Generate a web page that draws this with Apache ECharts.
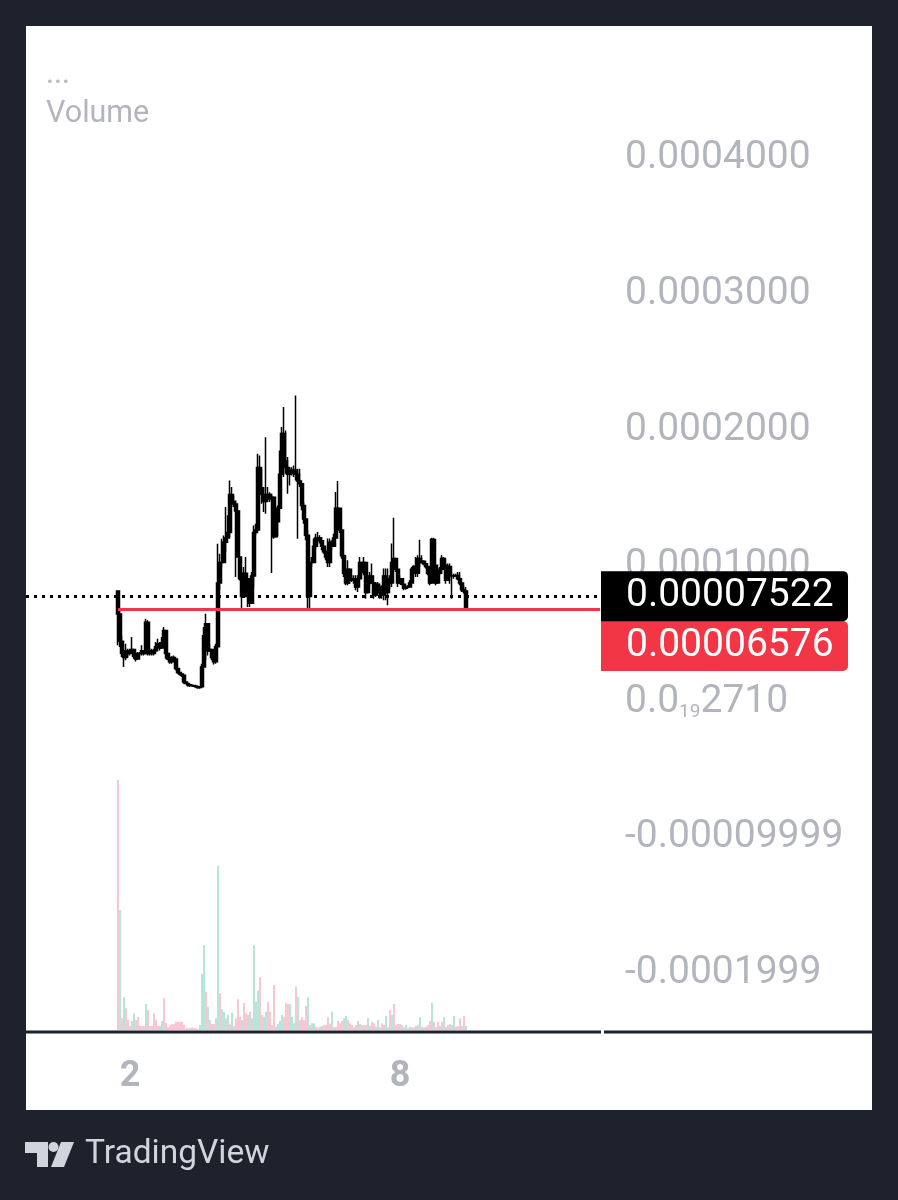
<!DOCTYPE html>
<html>
<head>
<meta charset="utf-8">
<style>
  html, body { margin: 0; padding: 0; background: #1e222d; }
  #main { width: 898px; height: 1200px; }
</style>
<script src="https://cdn.jsdelivr.net/npm/echarts@6/dist/echarts.min.js"></script>
</head>
<body>
<div id="main"></div>
<script>
// prices are in millionths
var firstOpen = 79;
var highs = [
  79.5,64.7,46.3,35.3,40.2,36.5,36.5,45.1,34.1,31.6,
  34.1,34.1,39,35.3,58.6,57.4,36.5,36.5,36.5,41.4,
  43.9,41.4,45.1,52.5,34.1,31.6,29.2,30.9,31.6,28,
  21.8,19.4,18.1,16.9,12,10.8,10.3,10.3,9.5,9.5,
  8.8,8.8,25.5,52.5,62.3,47.6,40.2,35.3,30.4,40.2,
  113.8,106.4,117.5,119.9,140.8,134.7,160.4,155.5,149.4,145.7,
  138.3,104,93,96.6,104,86.8,81.9,93,127.3,128.5,
  180,178.8,169,155.5,192.3,155.5,151.8,150.6,121.2,134.7,
  142,182.5,199.7,214.4,197.2,177.6,170.2,170.2,171.4,223,
  169,169,156.8,144.5,131,123.7,104.1,104.1,117.6,121.2,
  122.5,120,118.8,112.6,110.2,117.6,117.6,116.3,121.2,151.9,
  160,137.2,121.2,106.5,94.2,101.6,91.8,90.6,90.6,90.6,
  90.6,104.1,97.9,104.1,91.8,90.6,93,99.2,85.7,85.7,
  85.7,84.4,83.2,95.5,95.5,95.5,90.6,113.9,133,101.6,
  93,90.6,86.9,83.2,83.2,83.2,86.9,96.7,97.9,104.1,
  105.3,116.8,105.3,101.6,99.2,96.7,95.5,118.3,118.3,97.9,
  94.2,96.7,105.3,104.1,97.9,99.2,99.2,91.8,91.8,91.8,
  93,93,83.2,83.2,82
];
var lows = [
  39,37.8,30.4,23,28,30.4,31.6,34.1,29.2,27.2,
  29.2,31.6,31.6,31.6,35.3,31.6,31.6,31.6,31.6,34.1,
  36.5,35.3,37.8,39,29.2,28,25.5,25.5,28,20.6,
  18.1,16.9,15.7,10.8,10.3,8.8,8.3,8.8,8.3,7.8,
  7.1,7.1,7.8,23,28,31.6,34.1,28,25,25.5,
  40.2,79.5,96.6,106.4,107.7,118.7,118.7,140.8,140.8,89.3,
  104,86.8,66.5,77,84.4,67.2,67.2,74.6,81.9,119.9,
  126.1,150.6,143.2,137.1,135.9,145.7,144.5,92.2,117.5,118.7,
  119.9,142,167.8,162.9,165.3,150.6,156.7,164.1,162.9,160.4,
  117.5,155.6,138.4,128.6,116.3,64.8,64.8,96.7,104.1,110.2,
  116.3,113.9,109,106.5,101.6,96.7,96.7,109,115.1,121.2,
  137.2,121.7,102.8,89.3,83.2,83.2,84.4,85.7,84.4,79.5,
  78.3,93,91.8,90.6,73.4,77.1,83.2,84.4,73.4,74.6,
  75.9,73.4,73.4,72.2,72.2,68.5,80.8,82,101.6,93,
  82,84.4,83.2,79.5,80,81.5,82,84.4,95.5,89.3,
  89.3,96.7,99.2,97.9,95.5,90.6,83.2,96.7,95.5,83.2,
  89.3,90.6,91.8,96.7,84.4,93,84.4,73.4,88,89.3,
  86.9,83.2,78.3,77.1,64.8
];
var closes = [
  62,42,33,30,35,33,34,36,31,29,
  33,33,35,33,56,33,35,33,35,38,
  40,37,41,50,33,29,27,30,29,22,
  19,18,17,12,11,10,9.5,9.5,9,8.5,
  8,8.5,23,46,55,35,36,30,27,38,
  85,100,100,115,118,122,150,145,143,138,
  104,88,75,92,88,75,70,90,122,124,
  170,155,150,145,150,150,147,148,119,130,
  140,165,195,175,170,165,168,166,168,165,
  160,158,142,132,120,75,100,100,112,118,
  118,116,112,108,104,100,115,112,118,140,
  140,124,105,92,85,95,88,87,88,82,
  88,100,93,100,78,85,90,85,76,84,
  78,82,76,90,78,88,85,100,103,95,
  85,88,84,81,82,82,85,95,97,92,
  103,100,101,99,97,92,85,117,98,85,
  92,95,103,98,87,97,90,90,90,90.5,
  88,85,80,79,65.76
];
var volumes = [
  750,360,35,98,65,30,12,28,50,30,
  40,12,12,12,78,60,12,12,50,30,
  12,12,27,95,22,8,14,17,17,25,
  25,25,25,16,5,5,5,8,6,5,
  3,15,168,255,115,70,30,18,18,35,
  492,110,62,55,35,45,17,52,12,35,
  92,40,30,82,50,45,55,35,255,85,
  118,158,45,40,55,85,55,15,135,10,
  18,28,45,40,80,78,78,40,20,130,
  100,30,38,30,72,98,15,20,20,10,
  5,10,12,14,15,38,18,55,8,10,
  28,20,28,35,42,30,20,15,8,15,
  28,18,15,14,15,35,12,25,20,10,
  30,8,20,15,42,8,60,45,78,15,
  18,18,15,8,15,5,10,8,8,12,
  15,38,10,8,10,15,28,82,25,8,
  25,12,25,38,10,15,18,15,42,10,
  12,35,12,42,12
];
// u = teal bar, d = pink bar
var volumeSides = (
  'dududdduud' + 'dddduddddd' + 'duuddddddd' + 'dddddduddd' + 'duuududddu' +
  'uduudududd' + 'ddudduduuu' + 'udduuddddu' + 'uuuddduuud' + 'udddduduud' +
  'ddudddduDD' + 'ddduuddddd' + 'ududdudddu' + 'uddduududd' + 'ddudududdu' +
  'dududddudd' + 'dududdudud' + 'ddudu'
).toLowerCase().split('');

var priceTicks = [-0.0002, -0.0001, 0, 0.0001, 0.0002, 0.0003, 0.0004];
var priceTickLabels = ['-0.0001999', '-0.00009999', '0.0{sub|19}2710', '0.0001000', '0.0002000', '0.0003000', '0.0004000'];
var dayTickSlots = [52, 187];
var dayTickLabels = ['2', '8'];
var lastPrice = 0.00007522;
var markPrice = 0.00006576;
var lastPriceText = '0.00007522';
var markPriceText = '0.00006576';

var slotCount = 288;   // whole width of the plot, data starts at slot 46
var dataStart = 46;

var slots = [], candleData = [], volumeData = [];
for (var k = 0; k < slotCount; k++) {
  slots.push(k);
  var i = k - dataStart;
  if (i >= 0 && i < closes.length) {
    var open = i === 0 ? firstOpen : closes[i - 1];
    candleData.push([open / 1e6, closes[i] / 1e6, lows[i] / 1e6, highs[i] / 1e6]);
    volumeData.push({
      value: volumes[i],
      itemStyle: { color: volumeSides[i] === 'u' ? '#6fcdb8' : '#f48fa3' }
    });
  } else {
    candleData.push('-');
    volumeData.push('-');
  }
}

var gray = '#b2b5be';
var sansFont = 'Roboto, "Noto Sans", sans-serif';

function priceBox(color, offsetY) {
  return {
    show: true,
    position: 'end',
    distance: 1,
    offset: [0, offsetY],
    color: '#fff',
    fontFamily: sansFont,
    fontSize: 39,
    lineHeight: 36,
    align: 'left',
    verticalAlign: 'middle',
    backgroundColor: color,
    borderRadius: [0, 5, 5, 0],
    padding: [8, 18, 6, 25],
    width: 204
  };
}

var myChart = echarts.init(document.getElementById('main'), null, { renderer: 'canvas' });

var option = {
  backgroundColor: '#1e222d',
  animation: false,
  graphic: [
    { type: 'rect', z: -10, shape: { x: 26, y: 26, width: 846, height: 1084 }, style: { fill: '#fff' } },
    { type: 'rect', z: 20, shape: { x: 26, y: 1030.5, width: 575, height: 3 }, style: { fill: '#1e222d' } },
    { type: 'rect', z: 20, shape: { x: 604, y: 1030.5, width: 268, height: 3 }, style: { fill: '#1e222d' } },
    { type: 'text', style: { x: 46, y: 75, text: '...', fill: gray, font: '30.5px ' + sansFont, textVerticalAlign: 'middle' } },
    { type: 'text', style: { x: 46, y: 114, text: 'Volume', fill: gray, font: '30.5px ' + sansFont, textVerticalAlign: 'middle' } },
    // logo
    { type: 'polygon', shape: { points: [[25, 1142], [48, 1142], [48, 1167], [37, 1167], [37, 1153], [25, 1153]] }, style: { fill: '#d1d4dc' } },
    { type: 'circle', shape: { cx: 53.5, cy: 1147, r: 5 }, style: { fill: '#d1d4dc' } },
    { type: 'polygon', shape: { points: [[61, 1142], [74, 1142], [64, 1167], [51, 1167]] }, style: { fill: '#d1d4dc' } },
    { type: 'text', style: { x: 85, y: 1155, text: 'TradingView', fill: '#d1d4dc', font: '33.5px ' + sansFont, textVerticalAlign: 'middle' } }
  ],
  grid: [
    { left: 25, width: 576, top: 155, height: 815 },
    { left: 25, width: 576, top: 780, height: 250 }
  ],
  xAxis: [
    { type: 'category', gridIndex: 0, data: slots, show: false },
    {
      type: 'category',
      gridIndex: 1,
      data: slots,
      axisLine: { show: false },
      axisTick: { show: false },
      splitLine: { show: false },
      axisLabel: {
        color: gray,
        fontFamily: sansFont,
        fontWeight: 'bold',
        fontSize: 36,
        margin: 29,
        interval: function (index) { return dayTickSlots.indexOf(index) >= 0; },
        formatter: function (value) { return dayTickLabels[dayTickSlots.indexOf(Number(value))]; }
      }
    }
  ],
  yAxis: [
    {
      type: 'value',
      gridIndex: 0,
      position: 'right',
      min: priceTicks[0],
      max: priceTicks[priceTicks.length - 1],
      interval: 0.0001,
      axisLine: { show: false },
      axisTick: { show: false },
      splitLine: { show: false },
      axisLabel: {
        color: gray,
        fontFamily: sansFont,
        fontSize: 39,
        margin: 24,
        padding: [7, 0, 0, 0],
        formatter: function (value, index) { return priceTickLabels[index]; },
        rich: { sub: { color: gray, fontFamily: sansFont, fontSize: 19, verticalAlign: 'bottom', padding: [14, 0, 0, 0] } }
      }
    },
    { type: 'value', gridIndex: 1, min: 0, max: 750, show: false }
  ],
  series: [
    {
      name: 'Volume',
      type: 'bar',
      xAxisIndex: 1,
      yAxisIndex: 1,
      barWidth: 1,
      data: volumeData
    },
    {
      name: 'Price',
      type: 'candlestick',
      xAxisIndex: 0,
      yAxisIndex: 0,
      barWidth: 3,
      itemStyle: { color: '#000', color0: '#000', borderColor: '#000', borderColor0: '#000', borderWidth: 1.5 },
      data: candleData,
      markLine: {
        silent: true,
        symbol: 'none',
        animation: false,
        data: [
          [
            { coord: [dataStart, markPrice], lineStyle: { color: '#f23645', width: 3, type: 'solid' }, label: Object.assign(priceBox('#f23645', 37), { formatter: markPriceText }) },
            { coord: [slotCount - 1, markPrice], lineStyle: { color: '#f23645', width: 3, type: 'solid' } }
          ],
          [
            { coord: [0, lastPrice], lineStyle: { color: '#000', width: 3, type: [3, 5] }, label: Object.assign(priceBox('#000', 0), { formatter: lastPriceText }) },
            { coord: [slotCount - 1, lastPrice], lineStyle: { color: '#000', width: 3, type: [3, 5] } }
          ]
        ]
      }
    }
  ]
};

myChart.setOption(option);
</script>
</body>
</html>
